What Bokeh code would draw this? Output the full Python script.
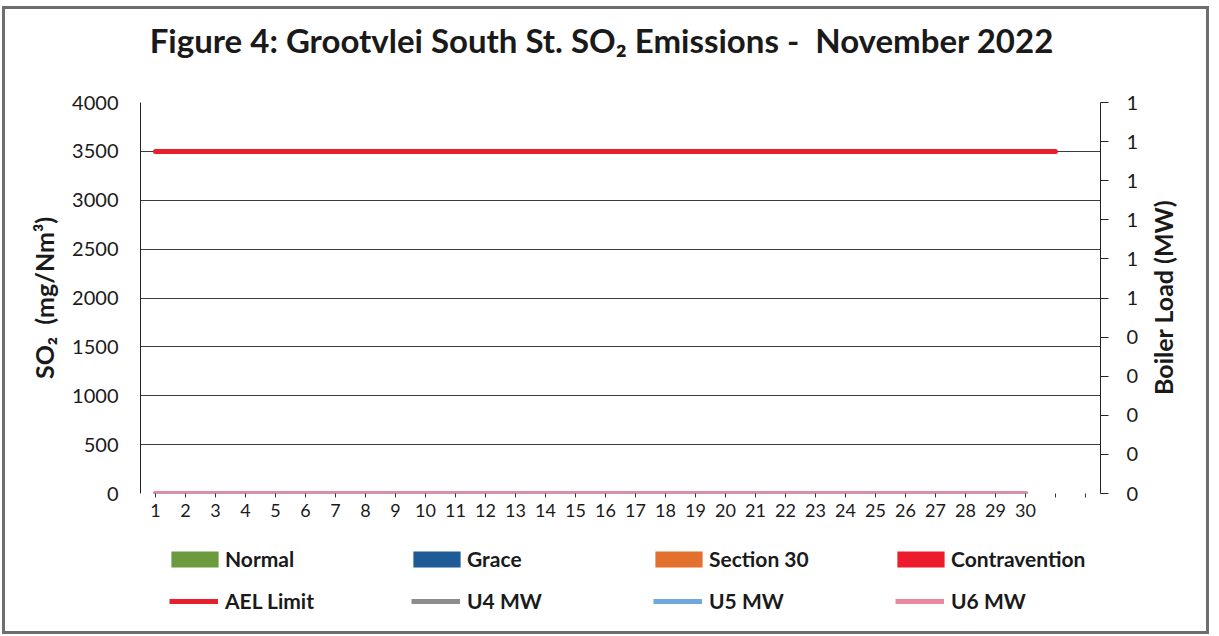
from bokeh.plotting import figure
from bokeh.layouts import column
from bokeh.models import (Range1d, LinearAxis, FixedTicker, NumeralTickFormatter,
                          Legend, LegendItem, Div)
from bokeh.embed import file_html
from bokeh.resources import INLINE

# ---------------- data ----------------
days = [1, 2, 3, 4, 5, 6, 7, 8, 9, 10, 11, 12, 13, 14, 15, 16, 17, 18, 19, 20,
        21, 22, 23, 24, 25, 26, 27, 28, 29, 30]
ael_days = [1, 2, 3, 4, 5, 6, 7, 8, 9, 10, 11, 12, 13, 14, 15, 16, 17, 18, 19, 20,
            21, 22, 23, 24, 25, 26, 27, 28, 29, 30, 31]
ael_limit = [3500, 3500, 3500, 3500, 3500, 3500, 3500, 3500, 3500, 3500,
             3500, 3500, 3500, 3500, 3500, 3500, 3500, 3500, 3500, 3500,
             3500, 3500, 3500, 3500, 3500, 3500, 3500, 3500, 3500, 3500, 3500]
normal = [0, 0, 0, 0, 0, 0, 0, 0, 0, 0, 0, 0, 0, 0, 0, 0, 0, 0, 0, 0, 0, 0, 0, 0, 0, 0, 0, 0, 0, 0]
grace = [0, 0, 0, 0, 0, 0, 0, 0, 0, 0, 0, 0, 0, 0, 0, 0, 0, 0, 0, 0, 0, 0, 0, 0, 0, 0, 0, 0, 0, 0]
section30 = [0, 0, 0, 0, 0, 0, 0, 0, 0, 0, 0, 0, 0, 0, 0, 0, 0, 0, 0, 0, 0, 0, 0, 0, 0, 0, 0, 0, 0, 0]
contravention = [0, 0, 0, 0, 0, 0, 0, 0, 0, 0, 0, 0, 0, 0, 0, 0, 0, 0, 0, 0, 0, 0, 0, 0, 0, 0, 0, 0, 0, 0]
u4_mw = [0, 0, 0, 0, 0, 0, 0, 0, 0, 0, 0, 0, 0, 0, 0, 0, 0, 0, 0, 0, 0, 0, 0, 0, 0, 0, 0, 0, 0, 0]
u5_mw = [0, 0, 0, 0, 0, 0, 0, 0, 0, 0, 0, 0, 0, 0, 0, 0, 0, 0, 0, 0, 0, 0, 0, 0, 0, 0, 0, 0, 0, 0]
u6_mw = [0, 0, 0, 0, 0, 0, 0, 0, 0, 0, 0, 0, 0, 0, 0, 0, 0, 0, 0, 0, 0, 0, 0, 0, 0, 0, 0, 0, 0, 0]

x_ticks = [1, 2, 3, 4, 5, 6, 7, 8, 9, 10, 11, 12, 13, 14, 15, 16, 17, 18, 19, 20,
           21, 22, 23, 24, 25, 26, 27, 28, 29, 30, 31, 32]
x_tick_labels = ["1", "2", "3", "4", "5", "6", "7", "8", "9", "10", "11", "12", "13",
                 "14", "15", "16", "17", "18", "19", "20", "21", "22", "23", "24",
                 "25", "26", "27", "28", "29", "30", "", ""]
so2_ticks = [0, 500, 1000, 1500, 2000, 2500, 3000, 3500, 4000]
mw_ticks = [0.0, 0.1, 0.2, 0.3, 0.4, 0.5, 0.6, 0.7, 0.8, 0.9, 1.0]

TITLE = "Figure 4: Grootvlei South St. SO\u2082 Emissions -&nbsp; November 2022"
RIGHT_TITLE = "Boiler Load (MW)"
FONT = "Lato"
TXT = "#1a1a1a"

bar_names = ["normal", "grace", "section30", "contravention"]
bar_labels = ["Normal", "Grace", "Section 30", "Contravention"]
bar_colors = ["#6b9a3f", "#1f5b96", "#e2702e", "#ec1c2c"]
C_AEL, C_U4, C_U5, C_U6 = "#e8202e", "#8c8c8c", "#6fa8dc", "#e8879f"

W = 1201

# ---------------- title ----------------
title_div = Div(text=TITLE, width=W, height=62, margin=0,
                styles={"font-family": FONT, "font-size": "33px", "font-weight": "bold",
                        "color": TXT, "text-align": "center", "line-height": "62px",
                        "white-space": "nowrap", "padding-right": "8px"})

# ---------------- main figure ----------------
p = figure(width=W, height=468, output_backend="svg", toolbar_location=None,
           x_range=Range1d(0.5, 32.5), y_range=Range1d(0, 4000),
           min_border_left=135, min_border_right=106, min_border_top=31,
           min_border_bottom=46, background_fill_color="white",
           border_fill_color="white", outline_line_color=None, margin=0)
p.extra_y_ranges = {"mw": Range1d(0, 1)}

src = dict(days=days, normal=normal, grace=grace, section30=section30,
           contravention=contravention)
p.vbar_stack(bar_names, x="days", width=0.6, source=src, color=bar_colors,
             line_color=None)
p.line(days, u4_mw, y_range_name="mw", line_width=5, color=C_U4, line_cap="round")
p.line(days, u5_mw, y_range_name="mw", line_width=5, color=C_U5, line_cap="round")
p.line(days, u6_mw, y_range_name="mw", line_width=5, color=C_U6, line_cap="round")
p.line(ael_days, ael_limit, line_width=5, color=C_AEL, line_cap="round")

xa = p.xaxis[0]
xa.ticker = FixedTicker(ticks=x_ticks)
xa.major_label_overrides = {t: l for t, l in zip(x_ticks, x_tick_labels)}
xa.axis_line_color = None
xa.major_tick_in = 0
xa.major_tick_out = 4
xa.major_tick_line_color = "#333333"
xa.minor_tick_line_color = None
xa.major_label_standoff = 6
xa.major_label_text_font = FONT
xa.major_label_text_font_size = "18px"
xa.major_label_text_color = TXT

ya = p.yaxis[0]
ya.ticker = FixedTicker(ticks=so2_ticks)
ya.axis_line_color = "#222222"
ya.major_tick_in = 0
ya.major_tick_out = 0
ya.minor_tick_line_color = None
ya.major_label_standoff = 22
ya.major_label_text_font = FONT
ya.major_label_text_font_size = "20px"
ya.major_label_text_color = TXT
ya.axis_label = "SO\u2082\u00a0\u00a0(mg/Nm\u00b3)"
ya.axis_label_text_font = FONT
ya.axis_label_text_font_style = "bold"
ya.axis_label_text_font_size = "25px"
ya.axis_label_text_color = TXT
ya.axis_label_standoff = 10

# right axis: ticks and labels
ra = LinearAxis(y_range_name="mw", ticker=FixedTicker(ticks=mw_ticks),
                formatter=NumeralTickFormatter(format="0"))
ra.axis_line_color = "#222222"
ra.major_tick_in = 0
ra.major_tick_out = 8
ra.major_tick_line_color = "#222222"
ra.minor_tick_line_color = None
ra.major_label_standoff = 18
ra.major_label_text_font = FONT
ra.major_label_text_font_size = "20px"
ra.major_label_text_color = TXT
p.add_layout(ra, "right")

p.xgrid.grid_line_color = None
p.ygrid.ticker = FixedTicker(ticks=so2_ticks)
p.ygrid.grid_line_color = "#3c3c3c"
p.ygrid.grid_line_width = 1

# right axis title (reads bottom-to-top), overlaid beside the right axis
right_title = Div(text=RIGHT_TITLE, width=40, height=391, margin=0,
                  styles={"position": "absolute", "left": "1138px", "top": "93px",
                          "font-family": FONT, "font-size": "25px",
                          "font-weight": "bold", "color": TXT,
                          "writing-mode": "vertical-rl", "transform": "rotate(180deg)",
                          "text-align": "center", "line-height": "40px",
                          "white-space": "nowrap"})

# ---------------- legend strip ----------------
# same series drawn in a strip whose y-range lies above the data, so only the
# legend keys show
lf = figure(width=W, height=92, output_backend="svg", toolbar_location=None,
            x_range=Range1d(0.5, 32.5), y_range=Range1d(1, 2), min_border=0,
            x_axis_type=None, y_axis_type=None, outline_line_color=None,
            background_fill_color="white", border_fill_color="white", margin=0)
lf.grid.visible = False
lsrc = dict(days=days, normal=normal, grace=grace, section30=section30,
            contravention=contravention)
lbars = lf.vbar_stack(bar_names, x="days", width=0.6, source=lsrc, color=bar_colors,
                      line_color=None)
l_ael = lf.line(ael_days, [v - 3500 for v in ael_limit], line_width=5, color=C_AEL)
l_u4 = lf.line(days, u4_mw, line_width=5, color=C_U4)
l_u5 = lf.line(days, u5_mw, line_width=5, color=C_U5)
l_u6 = lf.line(days, u6_mw, line_width=5, color=C_U6)

common = dict(orientation="horizontal", padding=0, margin=0, border_line_color=None,
              background_fill_alpha=0, label_text_font=FONT,
              label_text_font_style="bold", label_text_font_size="21px",
              label_text_color=TXT, spacing=0)
leg1 = Legend(items=[LegendItem(label=lab, renderers=[r]) for lab, r in zip(bar_labels, lbars)],
              location=(25, 60), glyph_width=59, glyph_height=20, label_standoff=1,
              label_width=182, **common)
leg2 = Legend(items=[LegendItem(label="AEL Limit", renderers=[l_ael]),
                     LegendItem(label="U4 MW", renderers=[l_u4]),
                     LegendItem(label="U5 MW", renderers=[l_u5]),
                     LegendItem(label="U6 MW", renderers=[l_u6])],
              location=(29, 18), glyph_width=49, glyph_height=24, label_standoff=7,
              label_width=186, **common)
lf.add_layout(leg1, "center")
lf.add_layout(leg2, "center")

layout = column(title_div, p, lf, right_title, spacing=0,
                styles={"border": "3px solid #6e6e6e", "margin-left": "2px",
                        "margin-top": "6px", "position": "relative"})

open("out.html", "w").write(file_html(layout, INLINE))
